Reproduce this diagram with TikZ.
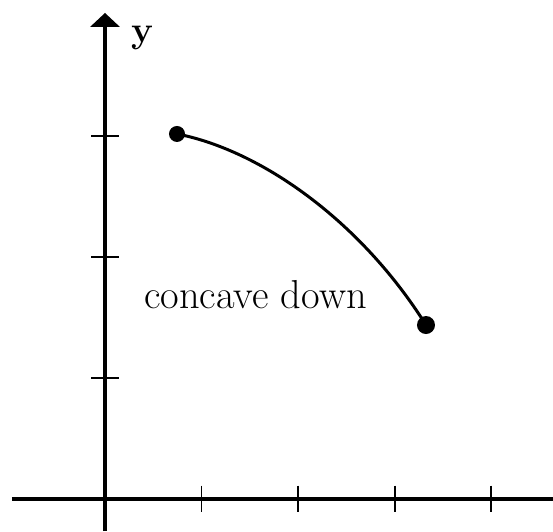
\documentclass[tikz,border=0pt]{standalone}
\usepackage{tikz}
\usetikzlibrary{arrows.meta,positioning}

\begin{document}
\begin{tikzpicture}[x=1.93cm,y=2.42cm]
	\useasboundingbox (-1.088,-0.264) rectangle (4.642,4.124);
	% axes
	\draw [line width=2.3pt](-0.964,0) -- (4.642,0);
	\draw [-{Triangle[width=5.8mm,length=2.8mm]},line width=2.3pt](0,-0.264) -- (0,4.017) coordinate(y axis);
	\node (ylabel) at (0.39,3.81) {\fontsize{21}{25}\selectfont\bfseries y};
	% ticks
	\foreach \i in {1,...,4}
		\draw [line width=1.1pt](\i,0.11) -- (\i,-0.11);
	\foreach \i in {1,2,3}
		\draw [line width=1.1pt](-0.145,\i) -- (0.145,\i);
	% the arc
	\coordinate (A) at (0.746,3.017);
	\coordinate (B) at (3.326,1.438);
	\draw [line width=1.7pt](A) .. controls (1.606,2.884) and (2.642,2.306) .. (B);
	\fill[black] (A) circle (1.6mm);
	\fill[black] (B) circle (1.8mm);
	\node (label) at (1.56,1.69) {\fontsize{23}{27}\selectfont concave down};
\end{tikzpicture}
\end{document}
